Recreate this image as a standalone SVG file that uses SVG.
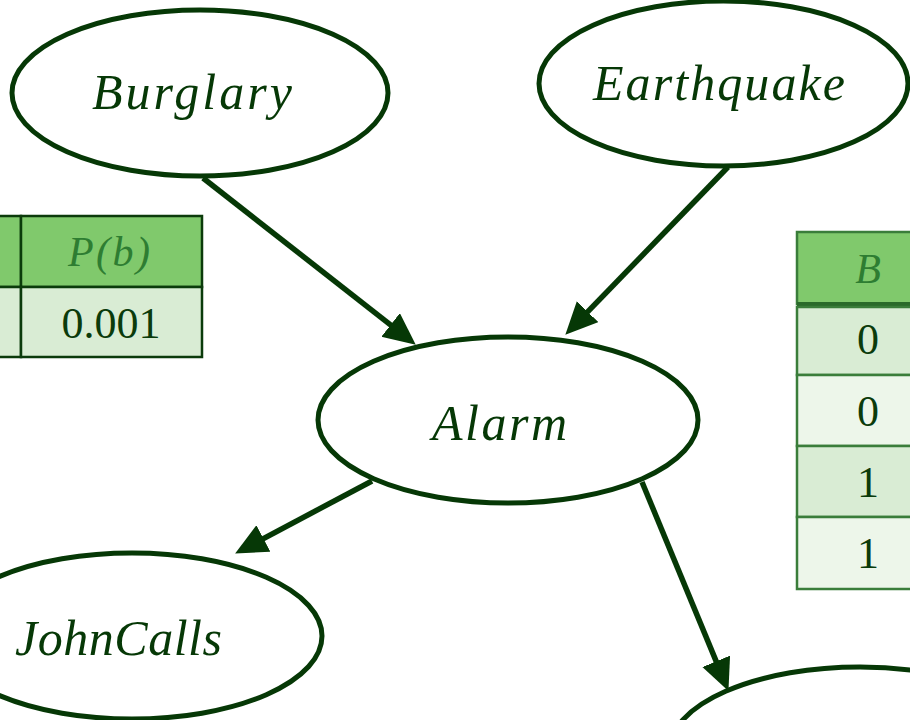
<svg xmlns="http://www.w3.org/2000/svg" width="910" height="720" viewBox="0 0 910 720">
  <style>
    .node { fill: #ffffff; stroke: #063806; stroke-width: 5; }
    .label { font-family: "Liberation Serif", "Times New Roman", serif; font-style: italic; font-size: 50px; fill: #063806; }
    .edge { stroke: #063806; stroke-width: 5.5; fill: none; marker-end: url(#arrow); }
    .hdr { fill: #80c96c; }
    .row-a { fill: #d9ecd4; }
    .row-b { fill: #edf6ea; }
    .cell-l { stroke: #0b3b0b; stroke-width: 2.5; }
    .cell-r { stroke: #3a7d3a; stroke-width: 2.5; }
    .th { font-family: "Liberation Serif", "Times New Roman", serif; font-style: italic; font-size: 42px; fill: #2e7d32; }
    .td { font-family: "Liberation Serif", "Times New Roman", serif; font-size: 44px; fill: #0b3b0b; }
  </style>
  <defs>
    <marker id="arrow" markerUnits="userSpaceOnUse" markerWidth="34" markerHeight="32" refX="23" refY="15" orient="auto">
      <path d="M0,0 L32,15 L0,30 z" fill="#063806"/>
    </marker>
  </defs>

  <!-- prior table for Burglary -->
  <g id="table-burglary">
    <rect class="hdr cell-l" x="-60" y="216" width="81" height="71"/>
    <rect class="hdr cell-l" x="21" y="216" width="181" height="71"/>
    <rect class="row-a cell-l" x="-60" y="287" width="81" height="70"/>
    <rect class="row-a cell-l" x="21" y="287" width="181" height="70"/>
    <text class="th" x="68" y="266" textLength="82" lengthAdjust="spacing">P(b)</text>
    <text class="td" x="111" y="338" text-anchor="middle">0.001</text>
  </g>

  <!-- conditional table for Alarm -->
  <g id="table-alarm">
    <rect class="hdr cell-r" x="797" y="232" width="140" height="72"/>
    <rect x="797" y="302" width="140" height="5" fill="#2a6a2a"/>
    <rect class="row-a cell-r" x="797" y="307" width="140" height="68"/>
    <rect class="row-b cell-r" x="797" y="375" width="140" height="71"/>
    <rect class="row-a cell-r" x="797" y="446" width="140" height="71"/>
    <rect class="row-b cell-r" x="797" y="517" width="140" height="72"/>
    <text class="th" x="868" y="283" text-anchor="middle">B</text>
    <text class="td" x="868" y="354" text-anchor="middle">0</text>
    <text class="td" x="868" y="426" text-anchor="middle">0</text>
    <text class="td" x="868" y="497" text-anchor="middle">1</text>
    <text class="td" x="868" y="568" text-anchor="middle">1</text>
  </g>

  <!-- connectors -->
  <g id="edges">
    <line class="edge" x1="203" y1="178" x2="408.7" y2="339.1"/>
    <line class="edge" x1="728" y1="167" x2="571.6" y2="328.3"/>
    <line class="edge" x1="372" y1="481" x2="243.1" y2="549.3"/>
    <line class="edge" x1="642" y1="482" x2="725" y2="682.6"/>
  </g>

  <g id="burglary">
    <ellipse class="node" cx="200" cy="93" rx="188" ry="83"/>
    <text class="label" x="92" y="109" textLength="200" lengthAdjust="spacing">Burglary</text>
  </g>
  <g id="earthquake">
    <ellipse class="node" cx="723.5" cy="83.5" rx="184.5" ry="82.5"/>
    <text class="label" x="593" y="100" textLength="252" lengthAdjust="spacing">Earthquake</text>
  </g>
  <g id="alarm">
    <ellipse class="node" cx="508" cy="420" rx="190" ry="83"/>
    <text class="label" x="432" y="440" textLength="135" lengthAdjust="spacing">Alarm</text>
  </g>
  <g id="johncalls">
    <ellipse class="node" cx="132" cy="636" rx="190" ry="83"/>
    <text class="label" x="15" y="655" textLength="207" lengthAdjust="spacing">JohnCalls</text>
  </g>
  <g id="marycalls">
    <ellipse class="node" cx="860" cy="750" rx="190" ry="83"/>
  </g>
</svg>
